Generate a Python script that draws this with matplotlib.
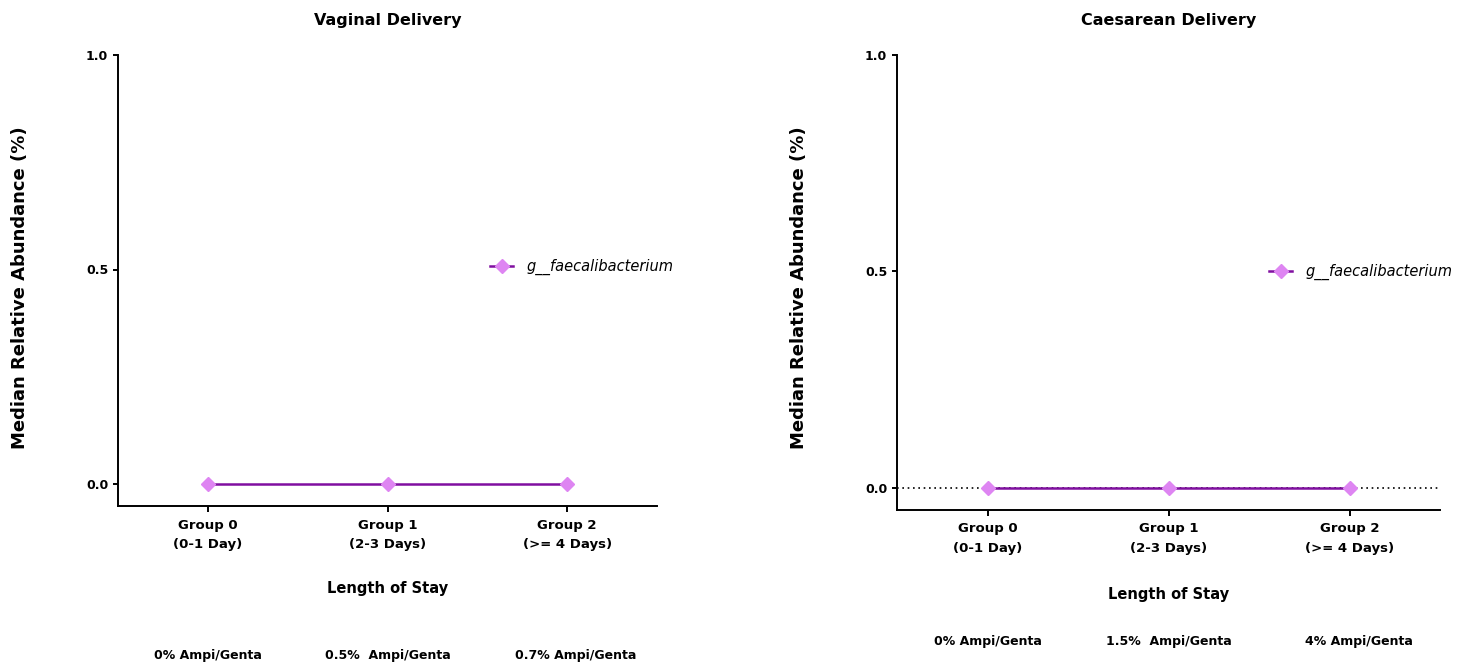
import matplotlib
matplotlib.use("Agg")
import matplotlib.pyplot as plt
import matplotlib.transforms as mtransforms

# Data
groups = ["Group 0\n(0-1 Day)", "Group 1\n(2-3 Days)", "Group 2\n(>= 4 Days)"]
taxon = "g__faecalibacterium"
vaginal_median = [0.0, 0.0, 0.0]
caesarean_median = [0.0, 0.0, 0.0]
vaginal_antibiotics = ["0% Ampi/Genta", "0.5%  Ampi/Genta", "0.7% Ampi/Genta"]
caesarean_antibiotics = ["0% Ampi/Genta", "1.5%  Ampi/Genta", "4% Ampi/Genta"]
y_ticks = [0.0, 0.5, 1.0]

LINE_COLOR = "#800FA0"
MARKER_COLOR = "#DE85F2"
W, H = 1471, 667

plt.rcParams["font.family"] = "DejaVu Sans"
fig = plt.figure(figsize=(W / 100, H / 100), dpi=100)

# panel setup: title, values, antibiotic labels, axes box in px (left, right, top, bottom),
# pixel row of y=0, dotted zero line, legend anchor px (x, y), text rows (xlabel, antibiotics)
panels = [
    ("Vaginal Delivery", vaginal_median, vaginal_antibiotics,
     (118, 657, 55, 506), 484, False, (490, 267), (589, 655)),
    ("Caesarean Delivery", caesarean_median, caesarean_antibiotics,
     (897, 1440, 55, 509.5), 487.7, True, (1269, 272), (595, 641)),
]

for title, values, antibiotics, box, y0_px, zero_line, leg_px, rows in panels:
    left, right, top, bottom = box
    ax = fig.add_axes([left / W, 1 - bottom / H, (right - left) / W, (bottom - top) / H])
    x = list(range(len(groups)))

    if zero_line:
        ax.axhline(0, color="black", lw=1.2, ls=(0, (1, 2.2)), zorder=1)

    ax.plot(x, values, color=LINE_COLOR, lw=1.8, marker="D", markersize=6.8,
            markerfacecolor=MARKER_COLOR, markeredgecolor=MARKER_COLOR,
            label=taxon, zorder=3)

    px_per_unit = y0_px - top
    ax.set_ylim(-(bottom - y0_px) / px_per_unit, 1.0)
    ax.set_xlim(-0.5, len(groups) - 0.5)
    ax.set_yticks(y_ticks)
    ax.set_yticklabels([f"{t:.1f}" for t in y_ticks], fontsize=9, fontweight="bold")
    ax.set_xticks(x)
    ax.set_xticklabels(groups, fontsize=9.5, fontweight="bold", linespacing=1.65)

    for side in ["top", "right"]:
        ax.spines[side].set_visible(False)
    for side in ["left", "bottom"]:
        ax.spines[side].set_linewidth(1.4)
    ax.tick_params(axis="y", length=3.6, width=1.4, pad=3.5)
    ax.tick_params(axis="x", length=4.3, width=1.4, pad=5)

    # legend to the right of centre
    ax.legend(loc="center left", frameon=False, borderpad=0, borderaxespad=0,
              handlelength=1.6, handletextpad=0.9,
              bbox_to_anchor=((leg_px[0] - left) / (right - left),
                              (bottom - leg_px[1]) / (bottom - top)),
              prop={"style": "italic", "size": 10.5})

    cx = (left + right) / 2 / W
    fig.text(cx, 1 - 20 / H, title, ha="center", va="center", fontsize=11.5, fontweight="bold")
    fig.text(cx, 1 - rows[0] / H, "Length of Stay", ha="center", va="center",
             fontsize=10.5, fontweight="bold")

    # antibiotic exposure row under each group
    trans = mtransforms.blended_transform_factory(ax.transData, fig.transFigure)
    for i, lab in enumerate(antibiotics):
        ax.text(i + (0.05 if i == 2 else 0.0), 1 - rows[1] / H, lab, transform=trans,
                ha="center", va="center", fontsize=9, fontweight="bold", clip_on=False)

    fig.text((left - 98) / W, 1 - 288 / H, "Median Relative Abundance (%)", rotation=90,
             ha="center", va="center", fontsize=13, fontweight="bold")

fig.savefig("out.png", dpi=100)
